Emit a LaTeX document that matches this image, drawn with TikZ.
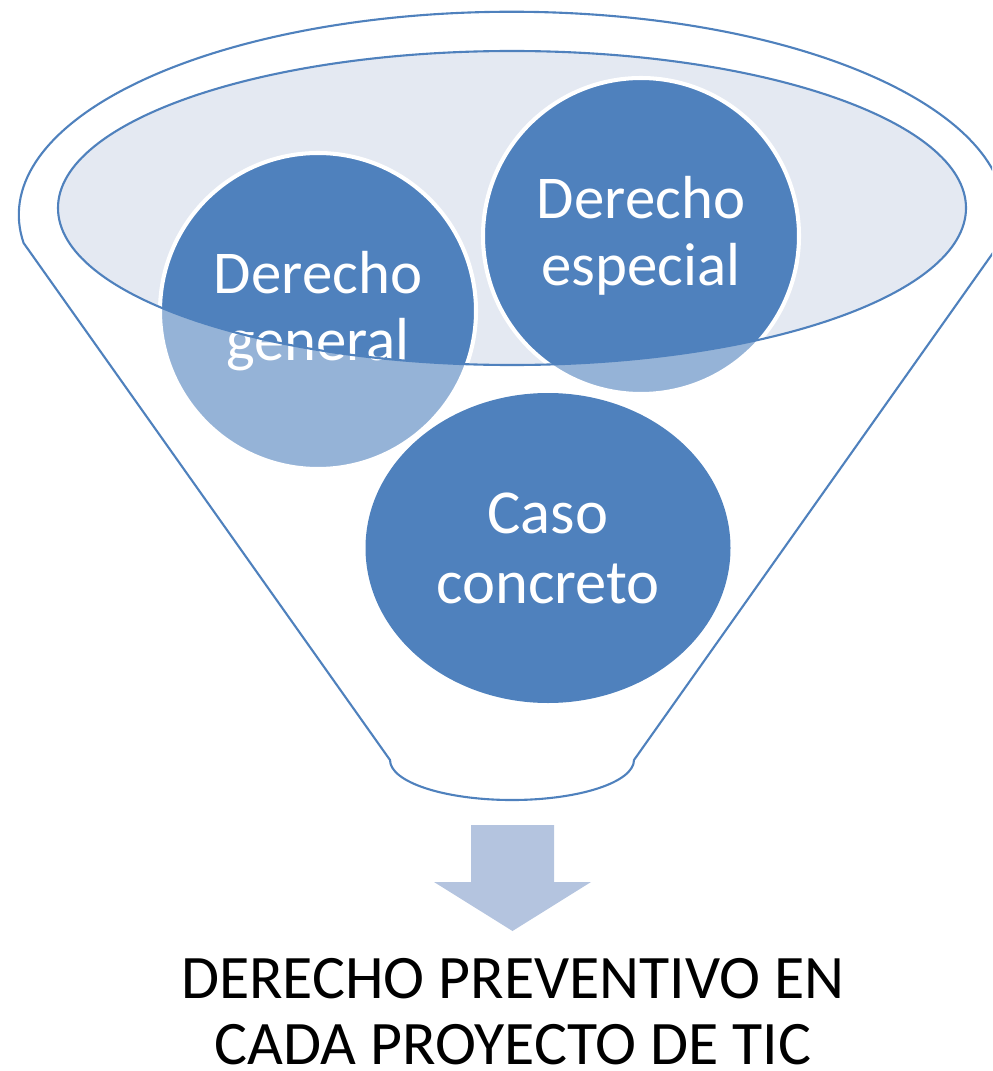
\documentclass[tikz,border=0pt]{standalone}
\usepackage{fontspec}
\setmainfont{Carlito}
\usetikzlibrary{shapes.geometric}

\definecolor{midblue}{RGB}{79,129,189}
\definecolor{paleblue}{RGB}{149,179,215}
\definecolor{rimblue}{RGB}{228,233,242}
\definecolor{arrowblue}{RGB}{180,196,223}

\begin{document}
\begin{tikzpicture}[
  funnel/.style={draw=midblue, line width=0.6pt},
  disc/.style={circle, minimum size=3.16cm, inner sep=0pt, draw=white, line width=1.15pt,
    text=white, align=center, font=\fontsize{17.3pt}{19pt}\selectfont},
  rimfill/.style={path picture={\fill[midblue] (rim.center) ellipse [x radius=4.54, y radius=1.57];}}
  ]
\useasboundingbox (0,0) rectangle (9.92,-10.71);
\clip (0,0) rectangle (9.92,-10.71);
% funnel body
\draw[funnel] (3.90,-7.60) arc [start angle=180, end angle=360, x radius=1.22, y radius=0.40]
  -- (10.00,-2.43) arc [start angle=-8, end angle=188, x radius=4.93, y radius=2.03] -- cycle;
\node[ellipse, fill=rimblue, minimum width=9.08cm, minimum height=3.14cm, inner sep=0pt] (rim) at (5.12,-2.08) {};
% the three inputs
\node[disc, fill=paleblue, rimfill] (gen) at (3.18,-3.11) {Derecho\\general};
\node[disc, fill=paleblue, rimfill] (esp) at (6.41,-2.36) {Derecho\\especial};
\node[ellipse, fill=midblue, minimum width=3.65cm, minimum height=3.10cm, inner sep=0pt,
  text=white, align=center, font=\fontsize{17.8pt}{19.9pt}\selectfont] (caso) at (5.48,-5.48) {Caso\\concreto};
\draw[funnel] (rim.center) ellipse [x radius=4.54, y radius=1.57];
% output
\fill[arrowblue] (4.71,-8.25) -- (5.54,-8.25) -- (5.54,-8.82) -- (5.91,-8.82) -- (5.125,-9.31)
  -- (4.34,-8.82) -- (4.71,-8.82) -- cycle;
\node[align=center, inner sep=0pt, font=\fontsize{17.6pt}{18.8pt}\selectfont] (result) at (5.13,-10.12)
  {DERECHO PREVENTIVO EN\\CADA PROYECTO DE TIC};
\end{tikzpicture}
\end{document}
